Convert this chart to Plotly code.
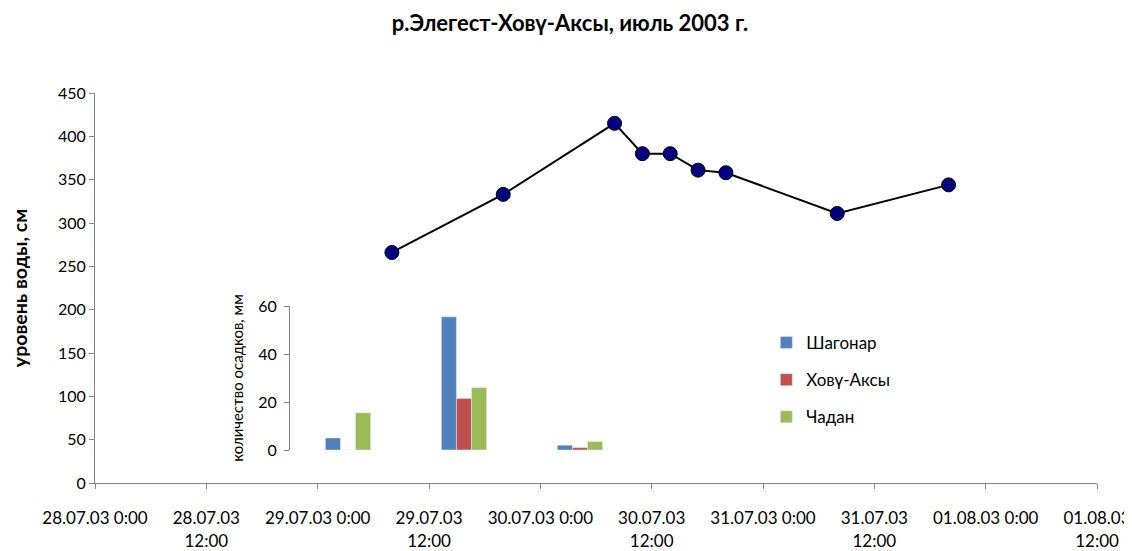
import plotly.graph_objects as go

# Water level data
level_times = ["2003-07-29 08:00", "2003-07-29 20:00", "2003-07-30 08:00", "2003-07-30 11:00",
               "2003-07-30 14:00", "2003-07-30 17:00", "2003-07-30 20:00", "2003-07-31 08:00",
               "2003-07-31 20:00"]
level_values = [266, 333, 415, 380, 380, 361, 358, 311, 344]

# Precipitation data (inset)
precip_days = ["29.07.03", "30.07.03", "31.07.03"]
shagonar = [5, 55.5, 2]
hovu_aksy = [0, 21.5, 1]
chadan = [15.5, 26, 3.5]

tick_vals = ["2003-07-28 00:00", "2003-07-28 12:00", "2003-07-29 00:00", "2003-07-29 12:00",
             "2003-07-30 00:00", "2003-07-30 12:00", "2003-07-31 00:00", "2003-07-31 12:00",
             "2003-08-01 00:00", "2003-08-01 12:00"]
tick_text = ["28.07.03 0:00", "28.07.03<br>12:00", "29.07.03 0:00", "29.07.03<br>12:00",
             "30.07.03 0:00", "30.07.03<br>12:00", "31.07.03 0:00", "31.07.03<br>12:00",
             "01.08.03 0:00", "01.08.03<br>12:00"]

FONT = "Lato, Carlito, Calibri, sans-serif"
AXIS_COLOR = "#868686"

# page body has an 8px margin, so the figure is sized to fit the window
W, H = 1124, 543

fig = go.Figure()

fig.add_trace(go.Scatter(
    x=level_times, y=level_values, mode="lines+markers",
    line=dict(color="black", width=2),
    marker=dict(color="#000080", size=14, line=dict(color="black", width=1)),
    showlegend=False, xaxis="x", yaxis="y"))

bar_series = [("Шагонар", shagonar, "#4F81BD"),
              ("Ховү-Аксы", hovu_aksy, "#C0504D"),
              ("Чадан", chadan, "#9BBB59")]
for i, (name, vals, col) in enumerate(bar_series):
    fig.add_trace(go.Bar(x=precip_days, y=vals, name=name, marker_color=col,
                         xaxis="x2", yaxis="y2", legendgroup=f"g{i}"))

fig.update_layout(
    width=W, height=H,
    margin=dict(l=87, r=35, t=85, b=68),
    paper_bgcolor="white", plot_bgcolor="white",
    font=dict(family=FONT, size=16, color="black"),
    title=dict(text="<b>р.Элегест-Ховү-Аксы, июль 2003 г.</b>", x=0.5, xanchor="center",
               y=1 - 15 / H, yanchor="middle", font=dict(size=22)),
    xaxis=dict(type="date", range=["2003-07-28 00:00", "2003-08-01 12:00"],
               tickmode="array", tickvals=tick_vals, ticktext=tick_text, automargin=False,
               showgrid=False, zeroline=False, showline=True, linecolor=AXIS_COLOR,
               ticks="outside", ticklen=5, tickcolor=AXIS_COLOR, ticklabelstandoff=15,
               tickfont=dict(size=17)),
    yaxis=dict(range=[0, 450], dtick=50, showgrid=False, zeroline=False, automargin=False,
               showline=True, linecolor=AXIS_COLOR, ticks="outside", ticklen=5,
               tickcolor=AXIS_COLOR, tickfont=dict(size=16),
               title=dict(text="<b>уровень воды, см</b>", font=dict(size=19.5), standoff=28)),
    xaxis2=dict(domain=[0.1946, 0.5419], anchor="y2", type="category",
                showticklabels=False, showline=False, showgrid=False, zeroline=False, ticks=""),
    yaxis2=dict(domain=[0.0846, 0.4538], anchor="x2", range=[0, 60], dtick=20,
                showgrid=False, zeroline=False, showline=True, linecolor=AXIS_COLOR,
                ticks="outside", ticklen=5, tickcolor=AXIS_COLOR, tickfont=dict(size=16),
                ticklabelstandoff=4,
                title=dict(text="количество осадков, мм", font=dict(size=15), standoff=10)),
    barmode="group", bargap=0.61, bargroupgap=0,
    legend=dict(x=0.670, y=0.405, xanchor="left", yanchor="top",
                traceorder="grouped", tracegroupgap=12, font=dict(size=17),
                bgcolor="rgba(0,0,0,0)"),
)

fig.write_html("out.html")
